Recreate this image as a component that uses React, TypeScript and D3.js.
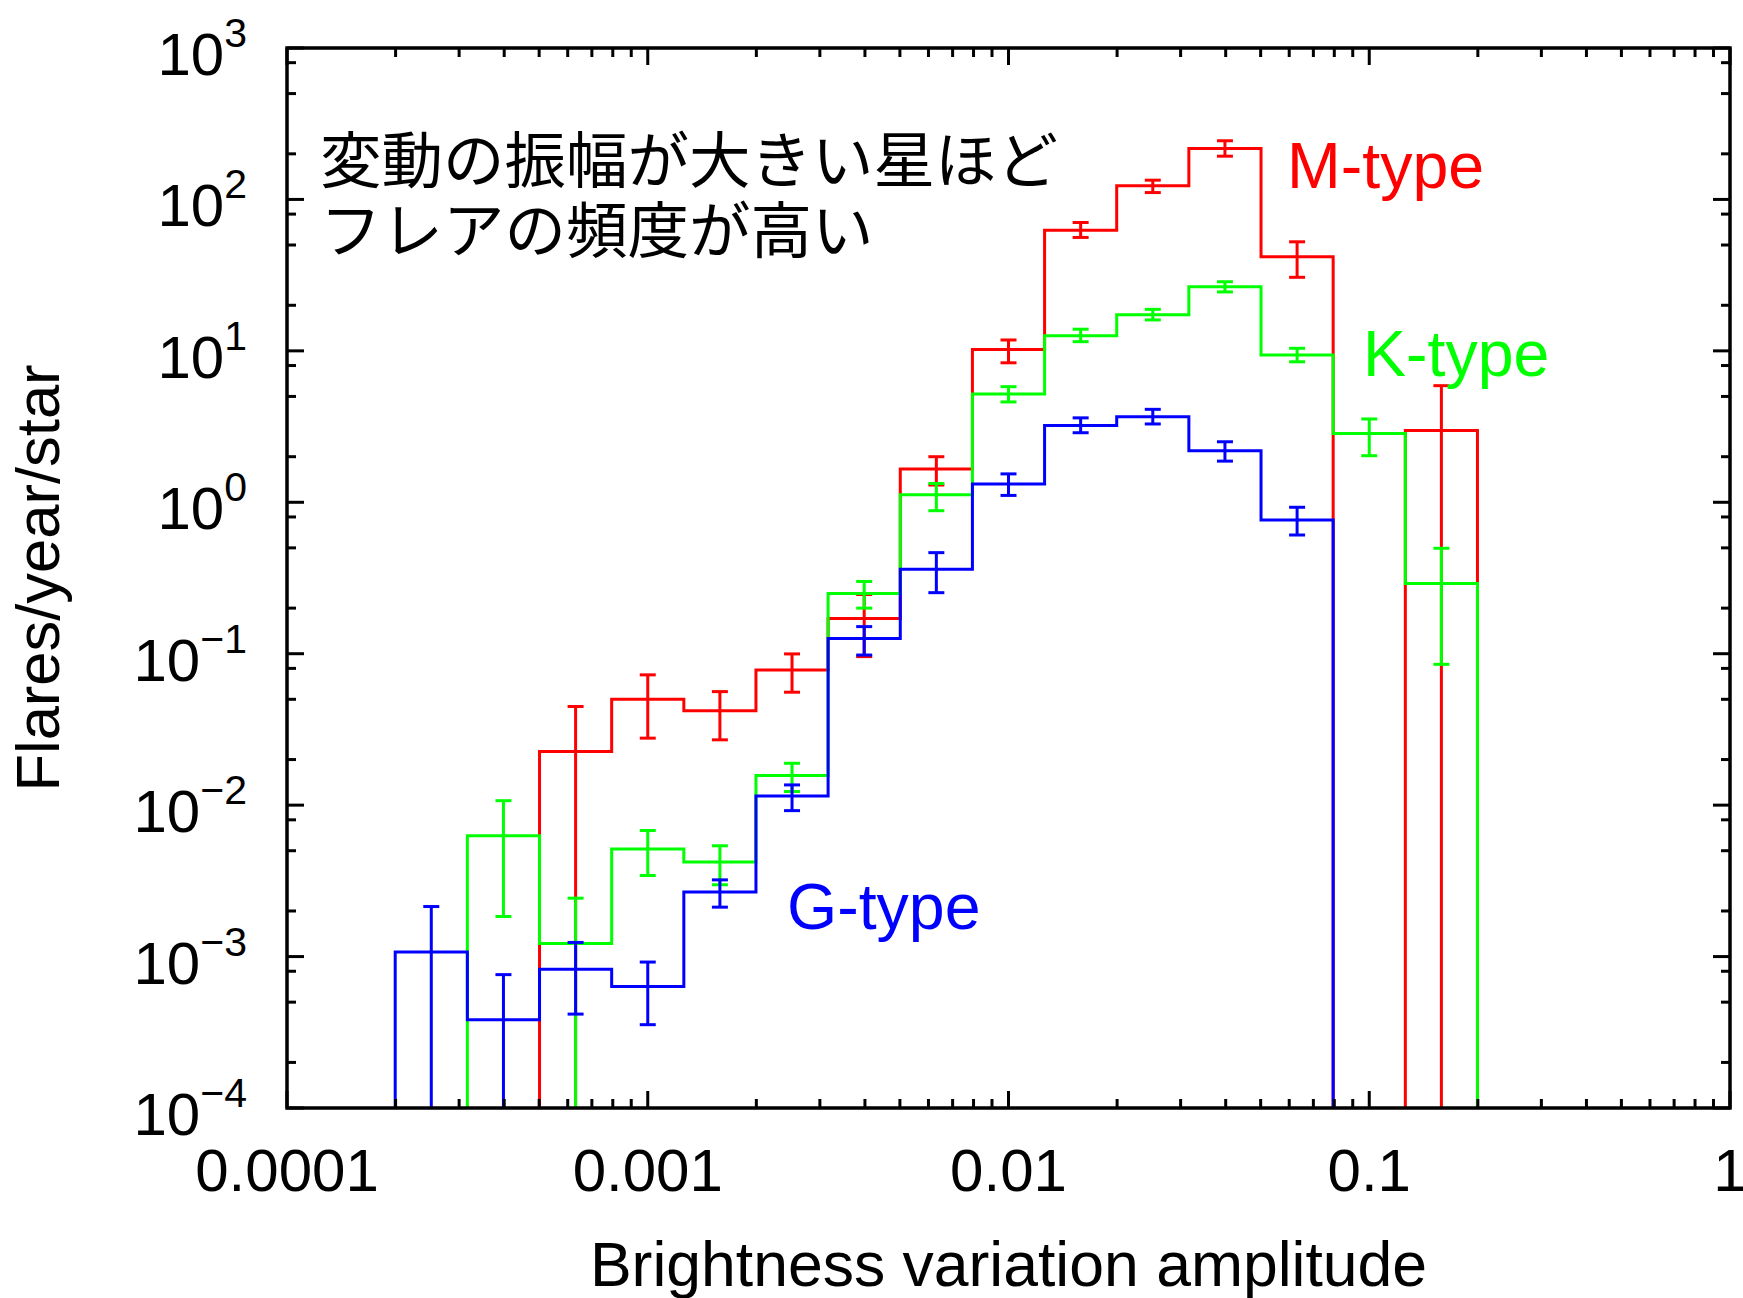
import React from 'react';
import * as d3 from 'd3';

// Bin edges (brightness variation amplitude), 0.2 dex wide
const binEdges = [0.0001995, 0.0003162, 0.0005012, 0.0007943, 0.001259, 0.001995, 0.003162, 0.005012, 0.007943, 0.01259, 0.01995, 0.03162, 0.05012, 0.07943, 0.1259, 0.1995];

// M-type (red)
const mValue = [null, null, 0.0226, 0.0501, 0.042, 0.0781, 0.171, 1.66, 10.2, 62.7, 123, 217, 41.8, null, 2.98];
const mLower = [null, null, 0, 0.0277, 0.027, 0.0557, 0.0957, 1.3, 8.34, 56.1, 111, 193, 30.6, null, 0];
const mUpper = [null, null, 0.0448, 0.0725, 0.0562, 0.0997, 0.246, 2.0, 11.8, 70.4, 134, 244, 52.5, null, 5.89];

// K-type (green)
const kValue = [null, 0.00628, 0.00122, 0.00513, 0.00421, 0.0157, 0.25, 1.12, 5.19, 12.6, 17.3, 26.5, 9.38, 2.85, 0.291];
const kLower = [null, 0.00184, 0, 0.00343, 0.00298, 0.0123, 0.2, 0.88, 4.6, 11.5, 16.0, 24.5, 8.47, 2.03, 0.0851];
const kUpper = [null, 0.0107, 0.00243, 0.0068, 0.00539, 0.0189, 0.3, 1.33, 5.8, 13.9, 18.8, 28.6, 10.4, 3.55, 0.497];

// G-type (blue)
const gValue = [0.00107, 0.000383, 0.000826, 0.000635, 0.00267, 0.0115, 0.126, 0.361, 1.32, 3.22, 3.67, 2.19, 0.764, null, null];
const gLower = [0, 0, 0.000417, 0.000355, 0.00212, 0.0092, 0.098, 0.253, 1.11, 2.88, 3.29, 1.87, 0.608, null, null];
const gUpper = [0.00214, 0.00076, 0.00124, 0.00092, 0.00321, 0.0136, 0.151, 0.465, 1.54, 3.61, 4.11, 2.51, 0.927, null, null];

const xMajor = [0.0001, 0.001, 0.01, 0.1, 1];
const xMajorLabels = ['0.0001', '0.001', '0.01', '0.1', '1'];
const yMajorExp = [-4, -3, -2, -1, 0, 1, 2, 3];
const xMinorMult = [2, 3, 4, 5, 6, 7, 8, 9];
const yMinorMult = [2, 5, 8];

const annotationLines = ['変動の振幅が大きい星ほど', 'フレアの頻度が高い'];

const W = 1743;
const H = 1298;
const plotLeft = 287;
const plotRight = 1730;
const plotTop = 48;
const plotBottom = 1108;

const latin = '"Liberation Sans", Arial, Helvetica, sans-serif';
const cjk = '"Noto Sans CJK JP", "Noto Sans CJK SC", sans-serif';

const x = d3.scaleLog().domain([1e-4, 1]).range([plotLeft, plotRight]);
const y = d3.scaleLog().domain([1e-4, 1e3]).range([plotBottom, plotTop]);

type Series = { name: string; color: string; value: (number | null)[]; lower: (number | null)[]; upper: (number | null)[] };

const series: Series[] = [
  { name: 'M', color: '#ff0000', value: mValue, lower: mLower, upper: mUpper },
  { name: 'K', color: '#00ff00', value: kValue, lower: kLower, upper: kUpper },
  { name: 'G', color: '#0000ff', value: gValue, lower: gLower, upper: gUpper },
];

function stepPath(values: (number | null)[]): string {
  const p = d3.path();
  let prev: number | null = null;
  values.forEach((v, i) => {
    const x0 = x(binEdges[i]);
    const x1 = x(binEdges[i + 1]);
    if (v == null) {
      if (prev != null) p.lineTo(x0, plotBottom);
    } else {
      if (prev == null) {
        p.moveTo(x0, plotBottom);
      }
      p.lineTo(x0, y(v));
      p.lineTo(x1, y(v));
    }
    prev = v;
  });
  if (prev != null) p.lineTo(x(binEdges[binEdges.length - 1]), plotBottom);
  return p.toString();
}

function ErrorBars({ s }: { s: Series }) {
  const cap = 8;
  return (
    <g stroke={s.color} strokeWidth={3} fill="none">
      {s.value.map((v, i) => {
        if (v == null) return null;
        const cx = x(Math.sqrt(binEdges[i] * binEdges[i + 1]));
        const lo = s.lower[i] as number;
        const hi = s.upper[i] as number;
        const yLo = lo > 1e-4 ? y(lo) : plotBottom;
        const yHi = y(hi);
        return (
          <g key={i}>
            <line x1={cx} x2={cx} y1={yLo} y2={yHi} />
            <line x1={cx - cap} x2={cx + cap} y1={yHi} y2={yHi} />
            {lo > 1e-4 && <line x1={cx - cap} x2={cx + cap} y1={yLo} y2={yLo} />}
          </g>
        );
      })}
    </g>
  );
}

export default function App() {
  const xMinor: number[] = [];
  for (let e = -4; e < 0; e++) xMinorMult.forEach((m) => xMinor.push(m * Math.pow(10, e)));
  const yMinor: number[] = [];
  for (let e = -4; e < 3; e++) yMinorMult.forEach((m) => yMinor.push(m * Math.pow(10, e)));

  const majorLen = 17;
  const minorLen = 9;

  return (
    <div style={{ position: 'absolute', left: 0, top: 0 }}>
      <svg width={W} height={H} style={{ display: 'block', background: '#fff' }}>
        <defs>
          <clipPath id="plotClip">
            <rect x={plotLeft} y={plotTop} width={plotRight - plotLeft} height={plotBottom - plotTop} />
          </clipPath>
        </defs>
        <rect x={0} y={0} width={W} height={H} fill="#fff" />

        {/* series */}
        <g clipPath="url(#plotClip)">
          {series.map((s) => (
            <g key={s.name}>
              <path d={stepPath(s.value)} fill="none" stroke={s.color} strokeWidth={3} strokeLinejoin="miter" />
              <ErrorBars s={s} />
            </g>
          ))}
        </g>

        {/* ticks */}
        <g stroke="#000" strokeWidth={3}>
          {xMajor.map((v) => (
            <g key={'xM' + v}>
              <line x1={x(v)} x2={x(v)} y1={plotBottom} y2={plotBottom - majorLen} />
              <line x1={x(v)} x2={x(v)} y1={plotTop} y2={plotTop + majorLen} />
            </g>
          ))}
          {xMinor.map((v) => (
            <g key={'xm' + v}>
              <line x1={x(v)} x2={x(v)} y1={plotBottom} y2={plotBottom - minorLen} />
              <line x1={x(v)} x2={x(v)} y1={plotTop} y2={plotTop + minorLen} />
            </g>
          ))}
          {yMajorExp.map((e) => {
            const yy = y(Math.pow(10, e));
            return (
              <g key={'yM' + e}>
                <line x1={plotLeft} x2={plotLeft + majorLen} y1={yy} y2={yy} />
                <line x1={plotRight} x2={plotRight - majorLen} y1={yy} y2={yy} />
              </g>
            );
          })}
          {yMinor.map((v) => (
            <g key={'ym' + v}>
              <line x1={plotLeft} x2={plotLeft + minorLen} y1={y(v)} y2={y(v)} />
              <line x1={plotRight} x2={plotRight - minorLen} y1={y(v)} y2={y(v)} />
            </g>
          ))}
        </g>

        {/* frame */}
        <rect x={plotLeft} y={plotTop} width={plotRight - plotLeft} height={plotBottom - plotTop} fill="none" stroke="#000" strokeWidth={3.5} />

        {/* x tick labels */}
        <g fontFamily={latin} fontSize={60} fill="#000" textAnchor="middle">
          {xMajor.map((v, i) => (
            <text key={'xl' + v} x={x(v)} y={1191}>{xMajorLabels[i]}</text>
          ))}
        </g>

        {/* y tick labels */}
        <g fontFamily={latin} fill="#000" textAnchor="end">
          {yMajorExp.map((e) => (
            <text key={'yl' + e} x={247} y={y(Math.pow(10, e)) + 27} fontSize={60}>
              10
              <tspan dy={-28} fontSize={41}>{e < 0 ? '\u2212' + Math.abs(e) : String(e)}</tspan>
            </text>
          ))}
        </g>

        {/* axis titles */}
        <text x={(plotLeft + plotRight) / 2} y={1286} textAnchor="middle" fontFamily={latin} fontSize={62.5} fill="#000">
          Brightness variation amplitude
        </text>
        <text transform={`translate(59, ${(plotTop + plotBottom) / 2}) rotate(-90)`} textAnchor="middle" fontFamily={latin} fontSize={61.5} fill="#000">
          Flares/year/star
        </text>

        {/* annotation */}
        <g fontFamily={cjk} fontSize={61.5} fill="#000">
          {annotationLines.map((t, i) => (
            <text key={i} x={320} y={183 + i * 70}>{t}</text>
          ))}
        </g>

        {/* series labels */}
        <g fontFamily={latin} fontSize={64.5}>
          <text x={1287} y={188} fill="#ff0000">M-type</text>
          <text x={1363} y={376} fill="#00ff00">K-type</text>
          <text x={787} y={929} fill="#0000ff">G-type</text>
        </g>
      </svg>
    </div>
  );
}
